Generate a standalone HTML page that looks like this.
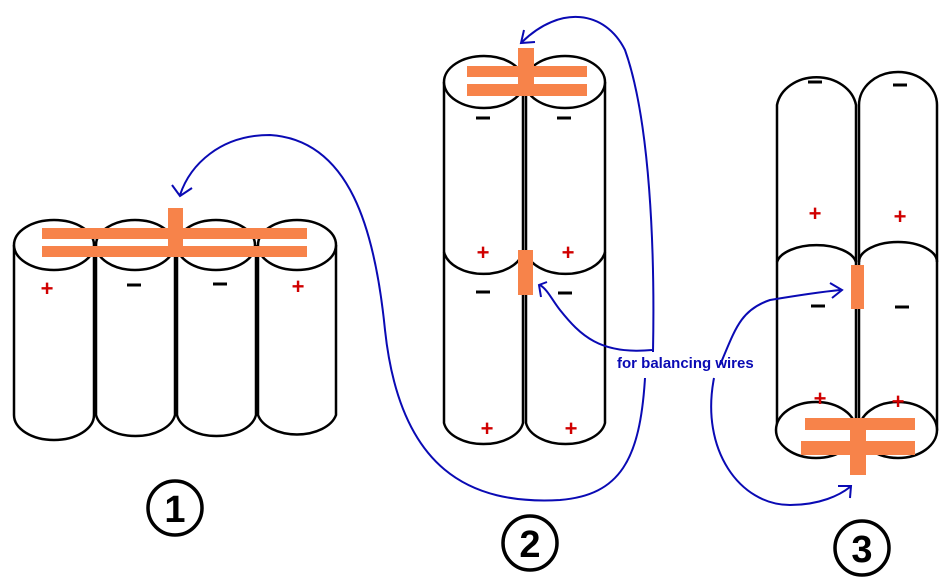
<!DOCTYPE html>
<html><head><style>body{margin:0;background:#fff}svg{display:block}</style></head><body>
<svg width="950" height="588" viewBox="0 0 950 588" xmlns="http://www.w3.org/2000/svg">
<g fill="#fff" stroke="#000" stroke-width="2.5">
<path d="M14 245 V415 A40 25 0 0 0 94 415 V245"/>
<path d="M96 245 V415 A40 25 0 0 0 175 415 V245"/>
<path d="M177 245 V415 A40 25 0 0 0 256 415 V245"/>
<path d="M258 245 V415 A40 25 0 0 0 336 415 V245"/>
<ellipse cx="54" cy="245" rx="40" ry="25"/>
<ellipse cx="135" cy="245" rx="39" ry="25"/>
<ellipse cx="216" cy="245" rx="39" ry="25"/>
<ellipse cx="297" cy="245" rx="39" ry="25"/>
<path d="M444 82 V423 A40 25 0 0 0 523 423 V82"/>
<path d="M526 82 V423 A40 25 0 0 0 605 423 V82"/>
<ellipse cx="484" cy="82" rx="40" ry="26"/>
<ellipse cx="565" cy="82" rx="40" ry="26"/>
<path d="M444 252 A40 26 0 0 0 523 252" fill="none"/>
<path d="M526 252 A40 26 0 0 0 605 252" fill="none"/>
<path d="M777 105 V430 A40 30 0 0 0 856 430 V105 A40 33 0 0 0 777 105Z"/>
<path d="M859 105 V430 A40 30 0 0 0 937 430 V105 A39 33 0 0 0 859 105Z"/>
<path d="M777 262 A40 20 0 0 1 856 262" fill="none"/>
<path d="M859 262 A39 20 0 0 1 937 262" fill="none"/>
<ellipse cx="816" cy="430" rx="40" ry="28"/>
<ellipse cx="898" cy="430" rx="39" ry="28"/>
</g>
<g fill="#f7834a">
<rect x="42" y="228" width="265" height="11"/><rect x="42" y="246" width="265" height="11"/><rect x="168" y="208" width="15" height="49"/>
<rect x="467" y="66" width="120" height="11"/><rect x="467" y="84" width="120" height="12"/><rect x="518" y="48" width="16" height="48"/>
<rect x="518" y="250" width="15" height="45"/>
<rect x="805" y="418" width="110" height="12"/><rect x="801" y="441" width="114" height="14"/><rect x="850" y="418" width="16" height="57"/>
<rect x="851" y="265" width="13" height="44"/>
</g>
<g font-family="Liberation Sans, sans-serif" font-weight="bold" font-size="22" text-anchor="middle">
<g fill="#d00000">
<text x="47" y="296">+</text><text x="298" y="294">+</text>
<text x="483" y="260">+</text><text x="568" y="260">+</text>
<text x="487" y="436">+</text><text x="571" y="436">+</text>
<text x="815" y="221">+</text><text x="900" y="224">+</text>
<text x="820" y="406">+</text><text x="898" y="409">+</text>
</g>
<g stroke="#000" stroke-width="3">
<path d="M127 285h14M213 284h14M476 118h14M557 118h14M476 292h14M558 293h14M808 82h14M893 85h14M811 306h14M895 307h14"/>
</g>
</g>
<g fill="none" stroke="#0a0ab4" stroke-width="2">
<path d="M645 378 C640 460 620 495 560 500 C470 505 400 470 385 330 C375 230 350 140 270 135 C220 135 190 165 180 195"/>
<path d="M172 185 L180 196 L192 188"/>
<path d="M653 352 C655 250 650 120 625 50 C605 10 560 5 522 42"/>
<path d="M524 30 L521 43 L535 42"/>
<path d="M652 350 C600 355 580 335 560 310 C552 300 548 290 540 285"/>
<path d="M547 282 L539 285 L541 297"/>
<path d="M720 365 C735 330 740 310 770 300 C800 295 820 292 840 290"/>
<path d="M830 283 L842 290 L832 298"/>
<path d="M714 378 C700 450 740 505 790 505 C820 505 840 495 850 487"/>
<path d="M838 486 L851 486 L850 498"/>
</g>
<text x="617" y="368" font-family="Liberation Sans, sans-serif" font-weight="bold" font-size="15" fill="#0a0ab4">for balancing wires</text>
<g fill="#fff" stroke="#000" stroke-width="3.5">
<circle cx="175" cy="508" r="27"/><circle cx="530" cy="543" r="27"/><circle cx="862" cy="548" r="27"/>
</g>
<g font-family="Liberation Sans, sans-serif" font-weight="bold" font-size="38" text-anchor="middle">
<text x="175" y="522">1</text><text x="530" y="557">2</text><text x="862" y="562">3</text>
</g>
</svg>
</body></html>
